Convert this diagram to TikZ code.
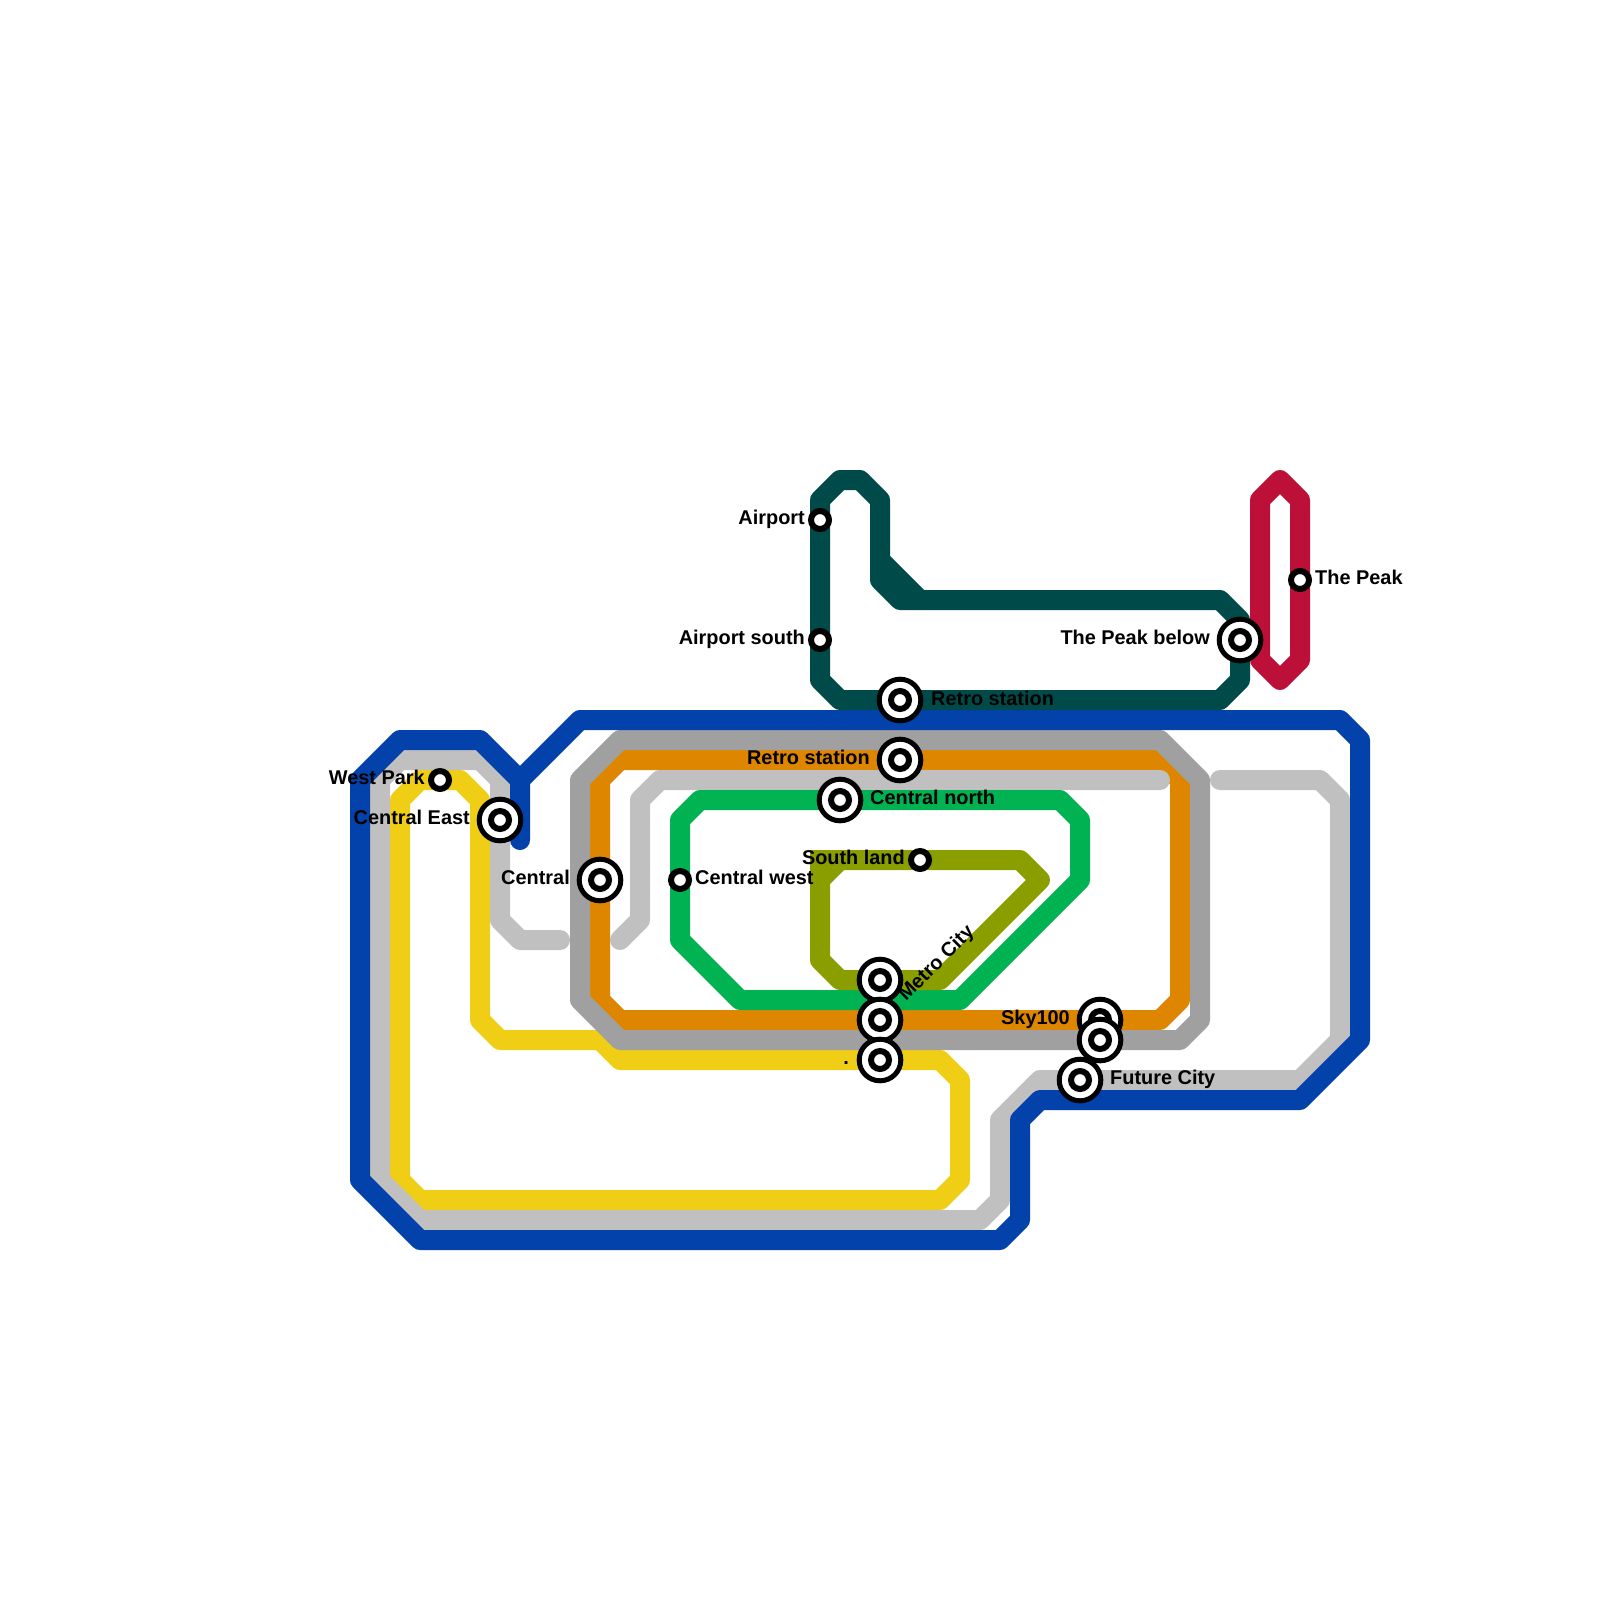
\documentclass[tikz,border=0pt]{standalone}
\usepackage{fontspec}
\setmainfont{Liberation Sans}
\definecolor{lblue}{HTML}{0341AB}
\definecolor{llight}{HTML}{C0C0C0}
\definecolor{ldark}{HTML}{A0A0A0}
\definecolor{lorange}{HTML}{DF8600}
\definecolor{lgreen}{HTML}{00B251}
\definecolor{lolive}{HTML}{8A9E00}
\definecolor{lyellow}{HTML}{F0CE15}
\definecolor{lteal}{HTML}{004A4A}
\definecolor{lred}{HTML}{BD1038}
\tikzset{
  metro/.style={line width=20pt,line join=round,line cap=round},
  minor/.style={circle,draw=black,fill=white,line width=6pt,minimum size=18pt,inner sep=0pt},
  majorring/.style={circle,draw=black,fill=white,line width=5pt,minimum size=41.6pt,inner sep=0pt},
  majordot/.style={circle,draw=black,fill=white,line width=6pt,minimum size=18pt,inner sep=0pt},
  lab/.style={font=\fontsize{19.9pt}{21pt}\selectfont\bfseries,text=black,inner sep=0pt},
  labl/.style={lab,anchor=base east},
  labr/.style={lab,anchor=base west},
}
\newcommand{\bigstation}[2]{%
  \node[majorring] (#1) at (#2) {};
  \node[majordot] (#1dot) at (#2) {};
}
\begin{document}
\begin{tikzpicture}[x=1pt,y=-1pt]
\useasboundingbox (0,0) rectangle (1600,1600);
\fill[white] (0,0) rectangle (1600,1600);
% yellow
\draw[metro,lyellow] (420,780) -- (460,780) -- (480,800) -- (480,1020) -- (500,1040) -- (600,1040) -- (620,1060) -- (940,1060) -- (960,1080) -- (960,1180) -- (940,1200) -- (420,1200) -- (400,1180) -- (400,800) -- cycle;
% light grey
\draw[metro,llight] (560,940) -- (520,940) -- (500,920) -- (500,780) -- (480,760) -- (400,760) -- (380,780) -- (380,1180) -- (420,1220) -- (980,1220) -- (1000,1200) -- (1000,1120) -- (1040,1080) -- (1300,1080) -- (1340,1040) -- (1340,800) -- (1320,780) -- (1220,780);
% orange
\draw[metro,lorange] (620,760) -- (1160,760) -- (1180,780) -- (1180,1000) -- (1160,1020) -- (620,1020) -- (600,1000) -- (600,780) -- cycle;
% dark grey
\draw[metro,ldark] (620,740) -- (1160,740) -- (1200,780) -- (1200,1020) -- (1180,1040) -- (620,1040) -- (580,1000) -- (580,780) -- cycle;
% light grey, inner part
\draw[metro,llight] (620,940) -- (640,920) -- (640,800) -- (660,780) -- (1160,780);
% green
\draw[metro,lgreen] (700,800) -- (1060,800) -- (1080,820) -- (1080,880) -- (960,1000) -- (740,1000) -- (680,940) -- (680,820) -- cycle;
% olive
\draw[metro,lolive] (840,860) -- (1020,860) -- (1040,880) -- (940,980) -- (840,980) -- (820,960) -- (820,880) -- cycle;
\draw[lolive,line width=20pt,line join=miter,line cap=butt] (820,880) -- (820,860) -- (840,860);
% blue
\draw[metro,lblue] (520,840) -- (520,780) -- (580,720) -- (1340,720) -- (1360,740) -- (1360,1040) -- (1300,1100) -- (1040,1100) -- (1020,1120) -- (1020,1220) -- (1000,1240) -- (420,1240) -- (360,1180) -- (360,780) -- (400,740) -- (480,740) -- (520,780);
% teal
\draw[metro,lteal] (820,500) -- (840,480) -- (860,480) -- (880,500) -- (880,560) -- (920,600) -- (1220,600) -- (1240,620) -- (1240,680) -- (1220,700) -- (840,700) -- (820,680) -- cycle;
\draw[metro,lteal] (880,560) -- (880,580) -- (900,600) -- (920,600);
% red
\draw[metro,lred] (1260,500) -- (1280,480) -- (1300,500) -- (1300,660) -- (1280,680) -- (1260,660) -- cycle;
% stations
\node[minor] (westpark) at (440,780) {};
\bigstation{centraleast}{500,820}
\bigstation{central}{600,880}
\node[minor] (centralwest) at (680,880) {};
\bigstation{centralnorth}{840,800}
\bigstation{retroa}{900,700}
\bigstation{retrob}{900,760}
\node[minor] (airport) at (820,520) {};
\node[minor] (airportsouth) at (820,640) {};
\bigstation{peakbelow}{1240,640}
\node[minor] (thepeak) at (1300,580) {};
\node[minor] (southland) at (920,860) {};
\bigstation{metrocity}{880,980}
\bigstation{middle}{880,1020}
\bigstation{dotstation}{880,1060}
\bigstation{skyhundred}{1100,1020}
\bigstation{skybelow}{1100,1040}
\bigstation{futurecity}{1080,1080}
% labels
\node[labl] (lwestpark) at (425,784) {West Park};
\node[labl] (lcentraleast) at (470,824) {Central East};
\node[labl] (lcentral) at (570,884) {Central};
\node[labr] (lcentralwest) at (695,884) {Central west};
\node[labr] (lcentralnorth) at (870,804) {Central north};
\node[labr] (lretroa) at (931,705) {Retro station};
\node[labl] (lretrob) at (870,764) {Retro station};
\node[labl] (lairport) at (805,524) {Airport};
\node[labl] (lairportsouth) at (805,644) {Airport south};
\node[labl] (lpeakbelow) at (1210,644) {The Peak below};
\node[labr] (lthepeak) at (1315,584) {The Peak};
\node[labl] (lsouthland) at (905,864) {South land};
\node[labl] (lsky) at (1070,1024) {Sky100};
\node[labr] (lfuture) at (1110,1084) {Future City};
\node[labl] (ldot) at (849,1064) {.};
\node[lab,anchor=base west,rotate=45] (lmetro) at (906,1002) {Metro City};
\end{tikzpicture}
\end{document}
